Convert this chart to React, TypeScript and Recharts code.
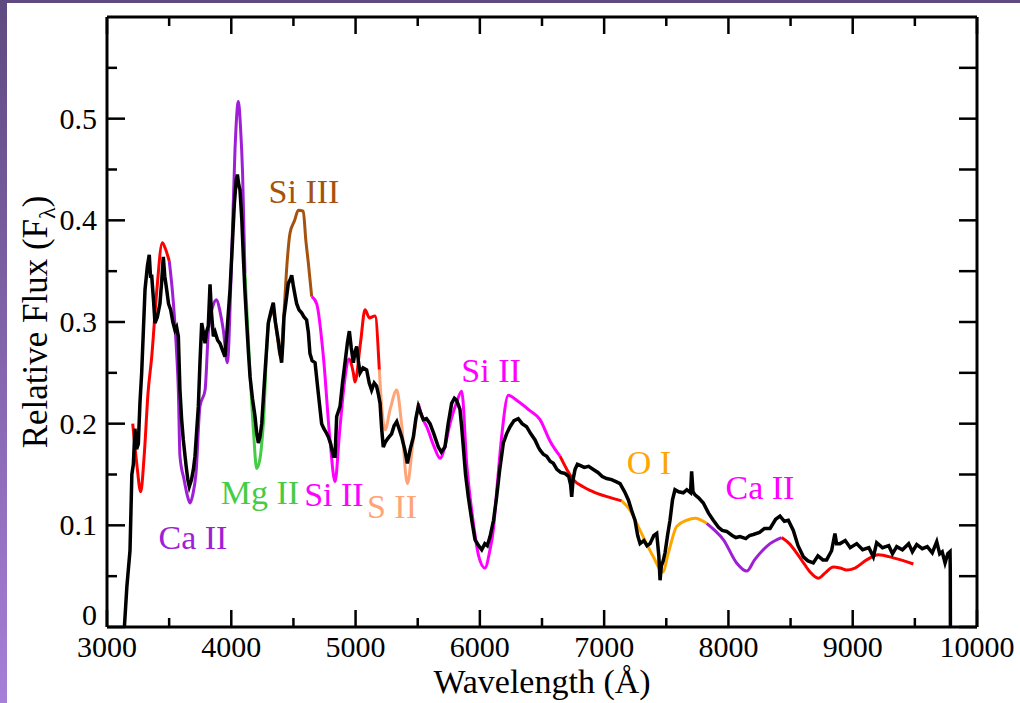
import {
  LineChart,
  Line,
  XAxis,
  YAxis,
  ReferenceDot,
} from "recharts";

// observed spectrum, [wavelength, relative flux]
const observed: [number, number][] = [
  [3140, 0.0], [3160, 0.04], [3185, 0.075], [3200, 0.15], [3212, 0.16], [3225, 0.195],
  [3238, 0.175], [3252, 0.18], [3265, 0.22], [3279, 0.25], [3306, 0.332], [3325, 0.355],
  [3340, 0.366], [3350, 0.345], [3360, 0.345], [3375, 0.32], [3386, 0.299], [3405, 0.305],
  [3426, 0.318], [3440, 0.34], [3453, 0.364], [3465, 0.345], [3480, 0.332], [3495, 0.318],
  [3512, 0.312], [3530, 0.3], [3547, 0.292], [3560, 0.295], [3574, 0.286], [3587, 0.233],
  [3600, 0.205], [3614, 0.184], [3635, 0.16], [3650, 0.145], [3662, 0.138], [3680, 0.145],
  [3695, 0.155], [3708, 0.168], [3720, 0.19], [3735, 0.217], [3748, 0.26], [3762, 0.299],
  [3775, 0.29], [3789, 0.279], [3800, 0.29], [3815, 0.296], [3829, 0.337], [3840, 0.31],
  [3856, 0.286], [3870, 0.29], [3890, 0.282], [3909, 0.279], [3930, 0.272], [3949, 0.266],
  [3965, 0.29], [3990, 0.332], [4010, 0.38], [4025, 0.417], [4040, 0.44], [4049, 0.445],
  [4060, 0.435], [4070, 0.43], [4085, 0.4], [4097, 0.364], [4110, 0.33], [4124, 0.299],
  [4138, 0.27], [4151, 0.246], [4170, 0.225], [4191, 0.207], [4205, 0.19], [4218, 0.181],
  [4232, 0.188], [4245, 0.2], [4258, 0.225], [4271, 0.25], [4285, 0.275], [4298, 0.299],
  [4318, 0.31], [4338, 0.319], [4355, 0.3], [4378, 0.282], [4392, 0.27], [4405, 0.26],
  [4415, 0.28], [4424, 0.305], [4440, 0.32], [4459, 0.338], [4475, 0.342], [4486, 0.346],
  [4500, 0.335], [4515, 0.325], [4526, 0.318], [4545, 0.312], [4566, 0.309], [4585, 0.305],
  [4606, 0.302], [4620, 0.29], [4633, 0.269], [4650, 0.262], [4674, 0.26], [4700, 0.23],
  [4727, 0.2], [4745, 0.195], [4760, 0.192], [4781, 0.187], [4800, 0.18], [4821, 0.168],
  [4835, 0.168], [4848, 0.207], [4875, 0.217], [4895, 0.24], [4915, 0.26], [4935, 0.28],
  [4950, 0.291], [4965, 0.275], [4982, 0.26], [4995, 0.27], [5009, 0.276], [5022, 0.262],
  [5036, 0.25], [5060, 0.255], [5089, 0.253], [5110, 0.24], [5129, 0.233], [5150, 0.24],
  [5169, 0.237], [5185, 0.228], [5197, 0.22], [5210, 0.195], [5223, 0.177], [5240, 0.182],
  [5263, 0.186], [5290, 0.19], [5310, 0.198], [5331, 0.202], [5350, 0.195], [5371, 0.187],
  [5395, 0.175], [5417, 0.161], [5440, 0.175], [5465, 0.187], [5485, 0.205], [5505, 0.217],
  [5525, 0.21], [5545, 0.204], [5570, 0.205], [5599, 0.2], [5630, 0.19], [5666, 0.177],
  [5690, 0.172], [5719, 0.177], [5745, 0.2], [5773, 0.22], [5795, 0.225], [5813, 0.223],
  [5840, 0.214], [5855, 0.195], [5867, 0.177], [5885, 0.15], [5907, 0.128], [5935, 0.105],
  [5961, 0.086], [5990, 0.08], [6015, 0.076], [6040, 0.082], [6060, 0.08], [6082, 0.089],
  [6110, 0.105], [6135, 0.128], [6160, 0.155], [6189, 0.181], [6215, 0.19], [6243, 0.197],
  [6275, 0.203], [6309, 0.205], [6340, 0.2], [6376, 0.197], [6410, 0.19], [6444, 0.184],
  [6470, 0.177], [6484, 0.174], [6510, 0.17], [6538, 0.168], [6565, 0.163], [6591, 0.161],
  [6620, 0.155], [6650, 0.152], [6685, 0.151], [6715, 0.148], [6730, 0.14], [6739, 0.128],
  [6750, 0.145], [6766, 0.155], [6785, 0.16], [6806, 0.159], [6840, 0.157], [6875, 0.158],
  [6913, 0.155], [6950, 0.152], [6985, 0.148], [7020, 0.146], [7060, 0.145], [7095, 0.143],
  [7128, 0.141], [7165, 0.133], [7195, 0.125], [7220, 0.115], [7248, 0.105], [7270, 0.09],
  [7289, 0.082], [7320, 0.085], [7345, 0.08], [7369, 0.082], [7400, 0.09], [7423, 0.092],
  [7440, 0.07], [7450, 0.046], [7460, 0.06], [7475, 0.065], [7490, 0.073], [7510, 0.09],
  [7530, 0.105], [7550, 0.125], [7570, 0.135], [7600, 0.133], [7637, 0.132], [7665, 0.135],
  [7695, 0.132], [7704, 0.153], [7715, 0.133], [7731, 0.13], [7760, 0.127], [7798, 0.122],
  [7840, 0.112], [7878, 0.105], [7920, 0.098], [7950, 0.095], [7986, 0.094], [8030, 0.09],
  [8060, 0.088], [8093, 0.089], [8140, 0.087], [8170, 0.09], [8200, 0.091], [8250, 0.093],
  [8290, 0.097], [8335, 0.097], [8380, 0.106], [8415, 0.109], [8450, 0.104], [8482, 0.105],
  [8522, 0.095], [8560, 0.08], [8603, 0.069], [8640, 0.065], [8683, 0.063], [8720, 0.07],
  [8760, 0.066], [8790, 0.066], [8830, 0.075], [8857, 0.092], [8870, 0.082], [8898, 0.082],
  [8940, 0.085], [8980, 0.078], [9032, 0.082], [9080, 0.076], [9130, 0.078], [9166, 0.069],
  [9193, 0.083], [9240, 0.078], [9290, 0.08], [9320, 0.072], [9354, 0.079], [9400, 0.076],
  [9450, 0.082], [9480, 0.074], [9515, 0.081], [9560, 0.077], [9600, 0.079], [9640, 0.073],
  [9676, 0.084], [9700, 0.072], [9720, 0.074], [9743, 0.063], [9765, 0.072], [9783, 0.074],
  [9785, 0.056], [9786, 0.0],
];

// synthetic spectrum, split by the ion that dominates each part
const redBlue: [number, number][] = [
  [3207, 0.2], [3240, 0.16], [3271, 0.133], [3300, 0.17], [3330, 0.23], [3360, 0.266],
  [3400, 0.33], [3445, 0.378], [3470, 0.372], [3501, 0.36],
];
const caIIUv: [number, number][] = [
  [3501, 0.36], [3534, 0.319], [3560, 0.27], [3574, 0.233], [3587, 0.168], [3620, 0.145],
  [3645, 0.13], [3668, 0.122], [3690, 0.13], [3716, 0.151], [3748, 0.217], [3789, 0.233],
  [3815, 0.289], [3850, 0.315], [3882, 0.322], [3910, 0.31], [3936, 0.292], [3968, 0.26],
  [4003, 0.364], [4030, 0.47], [4057, 0.517], [4075, 0.49], [4091, 0.446], [4110, 0.348],
];
const mgII: [number, number][] = [
  [4110, 0.348], [4151, 0.25], [4180, 0.19], [4204, 0.156], [4230, 0.165], [4258, 0.2],
  [4298, 0.299], [4312, 0.305],
];
const siIII: [number, number][] = [
  [4312, 0.305], [4336, 0.31], [4365, 0.29], [4397, 0.266], [4419, 0.299], [4450, 0.36],
  [4472, 0.387], [4510, 0.4], [4539, 0.41], [4579, 0.409], [4600, 0.38], [4620, 0.358],
  [4647, 0.325],
];
const siIIBlue: [number, number][] = [
  [4647, 0.325], [4687, 0.318], [4741, 0.266], [4794, 0.184], [4835, 0.143], [4870, 0.19],
  [4910, 0.24], [4942, 0.263], [4955, 0.264],
];
const redMid: [number, number][] = [
  [4955, 0.264], [4982, 0.25], [4995, 0.241], [5040, 0.28], [5076, 0.312], [5111, 0.304],
  [5156, 0.306], [5191, 0.253],
];
const sII: [number, number][] = [
  [5191, 0.253], [5215, 0.21], [5237, 0.194], [5280, 0.215], [5331, 0.233], [5370, 0.2],
  [5417, 0.141], [5460, 0.18], [5505, 0.22],
];
const siIIRed: [number, number][] = [
  [5505, 0.22], [5540, 0.205], [5572, 0.197], [5630, 0.178], [5680, 0.166], [5720, 0.178],
  [5760, 0.2], [5810, 0.22], [5854, 0.232], [5894, 0.161], [5948, 0.102], [5990, 0.07],
  [6041, 0.058], [6080, 0.075], [6108, 0.095], [6140, 0.14], [6175, 0.187], [6229, 0.228],
  [6296, 0.223], [6400, 0.213], [6484, 0.204], [6564, 0.183], [6645, 0.168],
];
const redOI: [number, number][] = [
  [6645, 0.168], [6700, 0.155], [6752, 0.145], [6830, 0.138], [6913, 0.133], [7030, 0.128],
  [7141, 0.124],
];
const oI: [number, number][] = [
  [7141, 0.124], [7208, 0.115], [7289, 0.095], [7396, 0.069], [7471, 0.054], [7517, 0.073],
  [7584, 0.099], [7665, 0.105], [7731, 0.107], [7825, 0.102],
];
const caIIIr: [number, number][] = [
  [7825, 0.102], [7890, 0.095], [7959, 0.086], [8066, 0.063], [8147, 0.055], [8210, 0.066],
  [8280, 0.076], [8335, 0.082], [8428, 0.088],
];
const redIr: [number, number][] = [
  [8428, 0.088], [8490, 0.082], [8548, 0.073], [8610, 0.062], [8657, 0.054], [8723, 0.048],
  [8777, 0.053], [8844, 0.059], [8898, 0.058], [8951, 0.056], [9018, 0.058], [9112, 0.066],
  [9206, 0.071], [9327, 0.068], [9488, 0.062],
];

const modelParts = [
  { pts: redBlue, color: "#ff0000" },
  { pts: caIIUv, color: "#9e1fd6" },
  { pts: mgII, color: "#44cc44" },
  { pts: siIII, color: "#a5520f" },
  { pts: siIIBlue, color: "#ff00ff" },
  { pts: redMid, color: "#ff0000" },
  { pts: sII, color: "#ffa476" },
  { pts: siIIRed, color: "#ff00ff" },
  { pts: redOI, color: "#ff0000" },
  { pts: oI, color: "#ffa500" },
  { pts: caIIIr, color: "#9e1fd6" },
  { pts: redIr, color: "#ff0000" },
];

const ionLabels = [
  { text: "Si III", x: 4585, y: 0.429, color: "#a5520f" },
  { text: "Ca II", x: 3692, y: 0.089, color: "#9e1fd6" },
  { text: "Mg II", x: 4231, y: 0.133, color: "#44cc44" },
  { text: "Si II", x: 4826, y: 0.131, color: "#ff00ff" },
  { text: "S II", x: 5293, y: 0.119, color: "#ffa476" },
  { text: "Si II", x: 6090, y: 0.253, color: "#ff00ff" },
  { text: "O I", x: 7361, y: 0.162, color: "#ffa500" },
  { text: "Ca II", x: 8254, y: 0.138, color: "#ff00ff" },
];

const xTicks = [3000, 3500, 4000, 4500, 5000, 5500, 6000, 6500, 7000, 7500, 8000, 8500, 9000, 9500, 10000];
const yTicks = [0, 0.05, 0.1, 0.15, 0.2, 0.25, 0.3, 0.35, 0.4, 0.45, 0.5, 0.55];

const FONT = "'Liberation Serif', 'DejaVu Serif', serif";
const toRows = (pts: [number, number][]) => pts.map(([x, y]) => ({ x, y }));
const isMajorX = (v: number) => v % 1000 === 0;
const isMajorY = (v: number) => Math.round(v * 100) % 10 === 0;

function BottomTick({ x, y, payload }: any) {
  const major = isMajorX(payload.value);
  return (
    <g>
      <line x1={x} x2={x} y1={y} y2={y - (major ? 17 : 9)} stroke="#000" strokeWidth={2.5} />
      {major && (
        <text x={x} y={y + 30} textAnchor="middle" fontSize={30} fontFamily={FONT} fill="#000">
          {payload.value}
        </text>
      )}
    </g>
  );
}

function TopTick({ x, y, payload }: any) {
  const major = isMajorX(payload.value);
  return <line x1={x} x2={x} y1={y} y2={y + (major ? 17 : 9)} stroke="#000" strokeWidth={2.5} />;
}

function LeftTick({ x, y, payload }: any) {
  const major = isMajorY(payload.value);
  // the zero label sits a little above the axis, clear of "3000"
  const dy = payload.value === 0 ? -2 : 10;
  return (
    <g>
      <line x1={x} x2={x + (major ? 18 : 10)} y1={y} y2={y} stroke="#000" strokeWidth={2.5} />
      {major && (
        <text x={x - 10} y={y + dy} textAnchor="end" fontSize={30} fontFamily={FONT} fill="#000">
          {String(Math.round(payload.value * 10) / 10)}
        </text>
      )}
    </g>
  );
}

function RightTick({ x, y }: any) {
  return <line x1={x} x2={x - 18} y1={y} y2={y} stroke="#000" strokeWidth={2.5} />;
}

const xTitle = (props: any) => {
  const { x, y, width } = props.viewBox;
  return (
    <text x={x + width / 2} y={y + 66} textAnchor="middle" fontSize={34} fontFamily={FONT} fill="#000">
      Wavelength (Å)
    </text>
  );
};

const yTitle = (props: any) => {
  const { x, y, width, height } = props.viewBox;
  const cx = x + width - 60;
  const cy = y + height / 2;
  return (
    <text
      x={cx}
      y={cy}
      transform={`rotate(-90 ${cx} ${cy})`}
      textAnchor="middle"
      fontSize={35}
      fontFamily={FONT}
      fill="#000"
    >
      Relative Flux (F
      <tspan dy={8} fontSize={24}>λ</tspan>
      <tspan dy={-8}>)</tspan>
    </text>
  );
};

export default function App() {
  return (
    <div
      style={{
        position: "absolute",
        left: 0,
        top: 0,
        width: 1020,
        height: 703,
        background: "linear-gradient(to bottom, #5e4a80, #a77ed8)",
        overflow: "hidden",
      }}
    >
      <div style={{ position: "absolute", left: 7, top: 3, right: 0, bottom: 0, background: "#fff" }} />
      <div style={{ position: "absolute", left: 0, top: 0 }}>
        <LineChart width={1020} height={703} margin={{ top: 7, right: 33, bottom: 16, left: 17 }}>
          <XAxis
            xAxisId="b"
            type="number"
            dataKey="x"
            domain={[3000, 10000]}
            ticks={xTicks}
            interval={0}
            allowDataOverflow
            height={60}
            tickSize={0}
            tickMargin={0}
            tickLine={false}
            tick={BottomTick}
            axisLine={{ stroke: "#000", strokeWidth: 3 }}
            label={xTitle}
          />
          <XAxis
            xAxisId="t"
            orientation="top"
            type="number"
            dataKey="x"
            domain={[3000, 10000]}
            ticks={xTicks}
            interval={0}
            allowDataOverflow
            height={10}
            tickSize={0}
            tickMargin={0}
            tickLine={false}
            tick={TopTick}
            axisLine={{ stroke: "#000", strokeWidth: 3 }}
          />
          <YAxis
            yAxisId="l"
            type="number"
            domain={[0, 0.6]}
            ticks={yTicks}
            interval={0}
            allowDataOverflow
            width={90}
            tickSize={0}
            tickMargin={0}
            tickLine={false}
            tick={LeftTick}
            axisLine={{ stroke: "#000", strokeWidth: 3 }}
            label={yTitle}
          />
          <YAxis
            yAxisId="r"
            orientation="right"
            type="number"
            domain={[0, 0.6]}
            ticks={yTicks}
            interval={0}
            allowDataOverflow
            width={10}
            tickSize={0}
            tickMargin={0}
            tickLine={false}
            tick={RightTick}
            axisLine={{ stroke: "#000", strokeWidth: 3 }}
          />
          {modelParts.map((part, i) => (
            <Line
              key={`m${i}`}
              xAxisId="b"
              yAxisId="l"
              data={toRows(part.pts)}
              dataKey="y"
              type="monotone"
              stroke={part.color}
              strokeWidth={3}
              dot={false}
              isAnimationActive={false}
            />
          ))}
          <Line
            xAxisId="b"
            yAxisId="l"
            data={toRows(observed)}
            dataKey="y"
            type="linear"
            stroke="#000"
            strokeWidth={3.5}
            strokeLinejoin="miter"
            dot={false}
            isAnimationActive={false}
          />
          {ionLabels.map((l, i) => (
            <ReferenceDot
              key={`lab${i}`}
              xAxisId="b"
              yAxisId="l"
              x={l.x}
              y={l.y}
              r={0}
              stroke="none"
              fill="none"
              label={{ value: l.text, position: "center", fill: l.color, fontSize: 34, fontFamily: FONT }}
            />
          ))}
        </LineChart>
      </div>
    </div>
  );
}
